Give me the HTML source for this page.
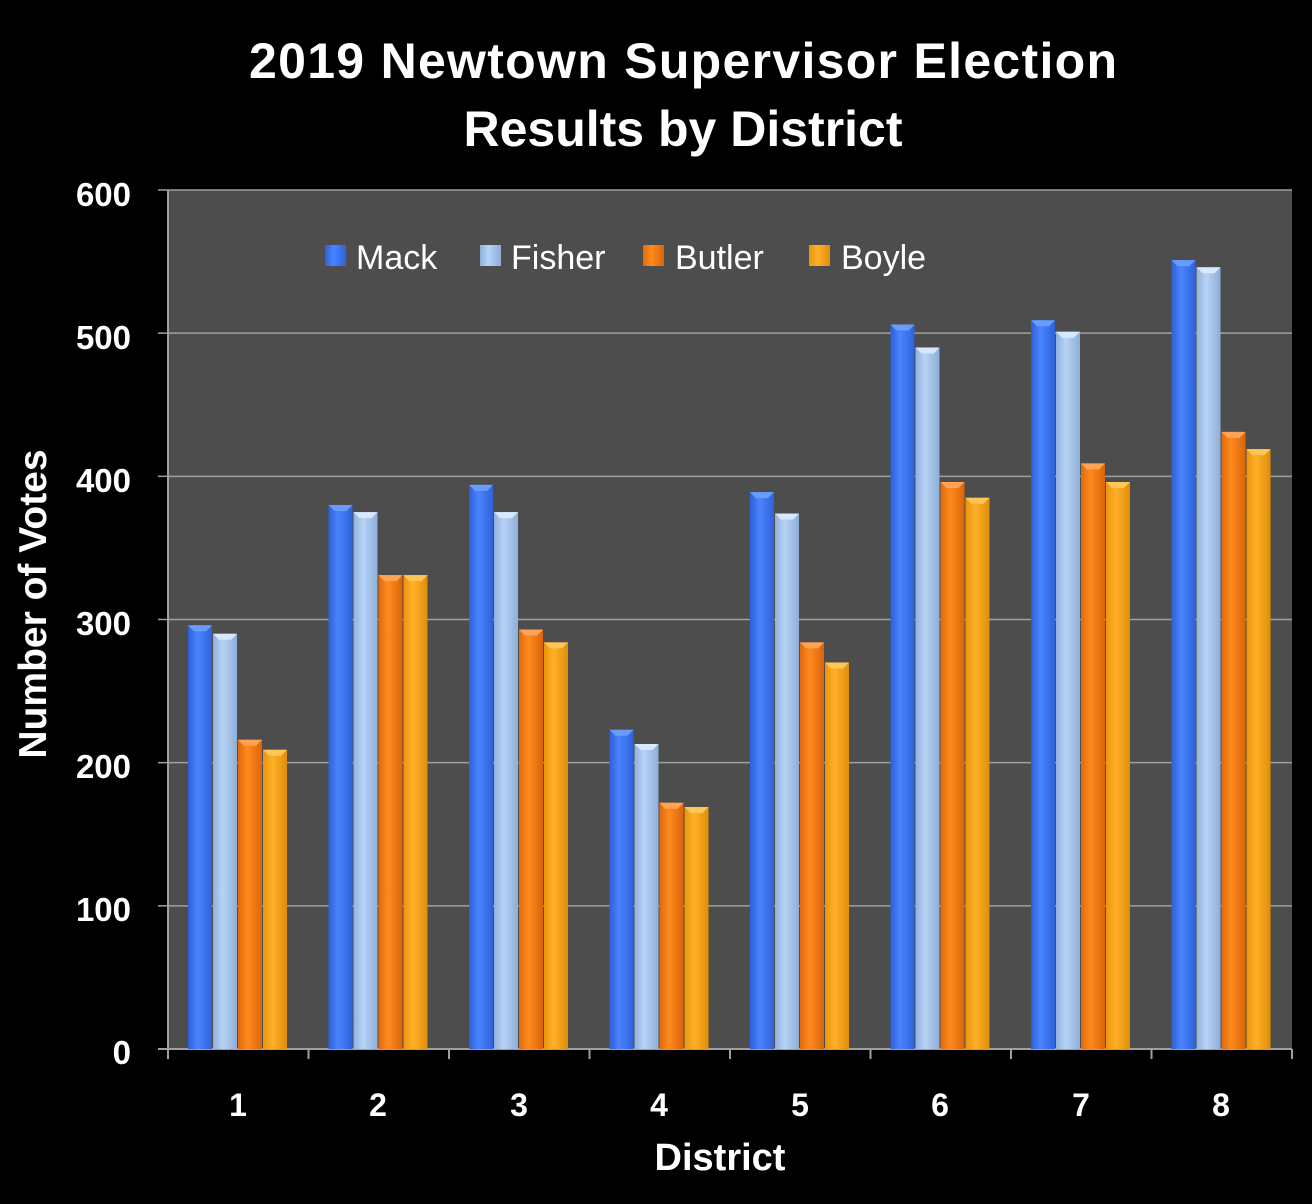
<!DOCTYPE html>
<html><head><meta charset="utf-8"><style>
html,body{margin:0;padding:0;background:#000;width:1312px;height:1204px;overflow:hidden}
text{font-family:"Liberation Sans",sans-serif;font-weight:bold;fill:#fff}
</style></head><body>
<svg id="s" width="1312" height="1204" xmlns="http://www.w3.org/2000/svg">
<defs>
<linearGradient id="g0" x1="0" x2="1"><stop offset="0" stop-color="#2f5fd8"/><stop offset=".4" stop-color="#4a84ff"/><stop offset="1" stop-color="#2f62d8"/></linearGradient>
<linearGradient id="g1" x1="0" x2="1"><stop offset="0" stop-color="#8fb0dc"/><stop offset=".4" stop-color="#b8d3f5"/><stop offset="1" stop-color="#8eaed8"/></linearGradient>
<linearGradient id="g2" x1="0" x2="1"><stop offset="0" stop-color="#e06a0c"/><stop offset=".4" stop-color="#ff8a1e"/><stop offset="1" stop-color="#d9650a"/></linearGradient>
<linearGradient id="g3" x1="0" x2="1"><stop offset="0" stop-color="#e8950c"/><stop offset=".4" stop-color="#ffb028"/><stop offset="1" stop-color="#e08e0a"/></linearGradient>
</defs>
<rect x="168" y="190" width="1124" height="859" fill="#4d4d4d"/>
<g id="grid"></g>
<g id="bars"></g>
<text x="683" y="78" font-size="50" text-anchor="middle" textLength="868">2019 Newtown Supervisor Election</text>
<text x="683" y="146" font-size="50" text-anchor="middle">Results by District</text>
<g font-size="33">
<text x="131" y="206" text-anchor="end">600</text>
<text x="131" y="349" text-anchor="end">500</text>
<text x="131" y="492" text-anchor="end">400</text>
<text x="131" y="635" text-anchor="end">300</text>
<text x="131" y="778" text-anchor="end">200</text>
<text x="131" y="921" text-anchor="end">100</text>
<text x="131" y="1064" text-anchor="end">0</text>
</g>
<g font-size="32">
<text x="238" y="1116" text-anchor="middle">1</text>
<text x="378" y="1116" text-anchor="middle">2</text>
<text x="519" y="1116" text-anchor="middle">3</text>
<text x="659" y="1116" text-anchor="middle">4</text>
<text x="800" y="1116" text-anchor="middle">5</text>
<text x="940" y="1116" text-anchor="middle">6</text>
<text x="1081" y="1116" text-anchor="middle">7</text>
<text x="1221" y="1116" text-anchor="middle">8</text>
</g>
<text x="720" y="1170" font-size="38" text-anchor="middle">District</text>
<text transform="translate(46,604) rotate(-90)" font-size="39" text-anchor="middle">Number of Votes</text>
<g font-size="34">
<rect x="325" y="245" width="21" height="21" fill="url(#g0)"/><text x="356" y="269" style="font-weight:normal">Mack</text>
<rect x="480" y="245" width="21" height="21" fill="url(#g1)"/><text x="511" y="269" style="font-weight:normal">Fisher</text>
<rect x="643" y="245" width="21" height="21" fill="url(#g2)"/><text x="675" y="269" style="font-weight:normal">Butler</text>
<rect x="809" y="245" width="21" height="21" fill="url(#g3)"/><text x="841" y="269" style="font-weight:normal">Boyle</text>
</g>
</svg>
<script>
var ns="http://www.w3.org/2000/svg";
function el(p,t,a){var e=document.createElementNS(ns,t);for(var k in a)e.setAttribute(k,a[k]);p.appendChild(e);return e}
var g=document.getElementById("grid"),b=document.getElementById("bars");
for(var i=1;i<=6;i++){var y=1049-i*143.17;el(g,"line",{x1:168,x2:1292,y1:y,y2:y,stroke:"#a0a0a0","stroke-width":1.5});el(g,"line",{x1:158,x2:168,y1:y,y2:y,stroke:"#a0a0a0","stroke-width":1.5})}
el(g,"line",{x1:168,x2:168,y1:190,y2:1049,stroke:"#a0a0a0","stroke-width":2});
el(g,"line",{x1:158,x2:1292,y1:1049,y2:1049,stroke:"#a0a0a0","stroke-width":2});
for(var i=0;i<=8;i++){var x=168+i*140.5;el(g,"line",{x1:x,x2:x,y1:1049,y2:1059,stroke:"#a0a0a0","stroke-width":2})}
var d=[[296,290,216,209],[380,375,331,331],[394,375,293,284],[223,213,172,169],[389,374,284,270],[506,490,396,385],[509,501,409,396],[551,546,431,419]];
var cap=["#6a9cff","#d8e8ff","#ffa455","#ffc555"];
d.forEach(function(r,gi){r.forEach(function(v,si){var x=188+gi*140.5+si*25,y=1049-v*1.4317;
el(b,"rect",{x:x,y:y,width:24,height:1049-y,fill:"url(#g"+si+")"});
el(b,"polygon",{points:(x)+","+y+" "+(x+24)+","+y+" "+(x+18)+","+(y+6)+" "+(x+6)+","+(y+6),fill:cap[si]});
})});
</script>
</body></html>
